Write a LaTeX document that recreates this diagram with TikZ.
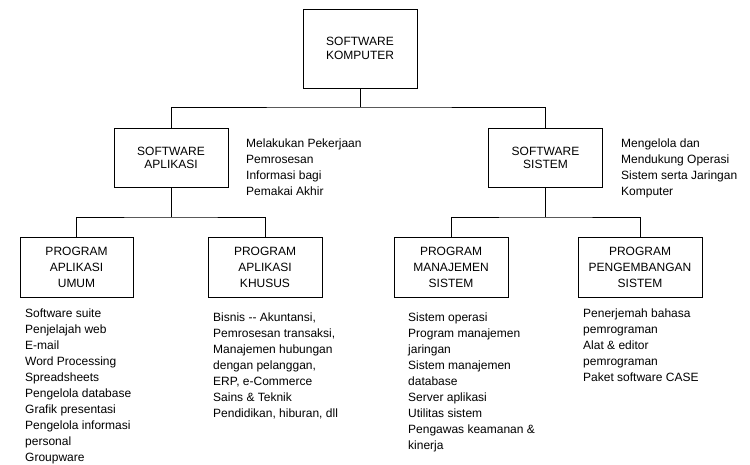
\documentclass[tikz,border=0pt]{standalone}
\usepackage{fontspec}
\setmainfont{Liberation Sans}
\begin{document}
\begin{tikzpicture}[x=1pt,y=-1pt,
  box/.style={draw,line width=0.9pt,rectangle,align=center,inner sep=0pt,font=\fontsize{12}{14}\selectfont},
  listtext/.style={anchor=north west,align=left,inner sep=0pt,font=\fontsize{12}{16}\selectfont},
  conn/.style={line width=0.9pt}]
\useasboundingbox (0,0) rectangle (750,464);
% top
\node[box,minimum width=114pt,minimum height=79pt] (top) at (360,48.5) {SOFTWARE\\KOMPUTER};
% level 2
\node[box,minimum width=114pt,minimum height=59pt,font=\fontsize{12}{13}\selectfont] (apl) at (171,157.5) {SOFTWARE\\APLIKASI};
\node[box,minimum width=114pt,minimum height=59pt,font=\fontsize{12}{13}\selectfont] (sis) at (545.5,157.5) {SOFTWARE\\SISTEM};
% level 3
\node[box,minimum width=113pt,minimum height=60pt,font=\fontsize{12}{16}\selectfont] (umum) at (76.5,267) {PROGRAM\\APLIKASI\\UMUM};
\node[box,minimum width=114pt,minimum height=60pt,font=\fontsize{12}{16}\selectfont] (khusus) at (265,267) {PROGRAM\\APLIKASI\\KHUSUS};
\node[box,minimum width=114pt,minimum height=60pt,font=\fontsize{12}{16}\selectfont] (manaj) at (451,267) {PROGRAM\\MANAJEMEN\\SISTEM};
\node[box,minimum width=124pt,minimum height=60pt,font=\fontsize{12}{16}\selectfont] (peng) at (640,267) {PROGRAM\\PENGEMBANGAN\\SISTEM};
% junctions
\coordinate (j1) at (360,107);
\coordinate (j2) at (171,217);
\coordinate (j3) at (545.5,217);
% connectors
\draw[conn] (top.south) -- (j1);
\draw[conn] (apl.north) |- (j1) -| (sis.north);
\draw[conn] (apl.south) -- (j2);
\draw[conn] (umum.north) |- (j2) -| (khusus.north);
\draw[conn] (sis.south) -- (j3);
\draw[conn] (manaj.north) |- (j3) -| (peng.north);
% descriptions
\node[listtext] (dapl) at (246,139) {Melakukan Pekerjaan\\Pemrosesan\\Informasi bagi\\Pemakai Akhir};
\node[listtext] (dsis) at (621,139) {Mengelola dan\\Mendukung Operasi\\Sistem serta Jaringan\\Komputer};
% lists
\node[listtext] (lumum) at (25,309) {Software suite\\Penjelajah web\\E-mail\\Word Processing\\Spreadsheets\\Pengelola database\\Grafik presentasi\\Pengelola informasi\\personal\\Groupware};
\node[listtext] (lkhusus) at (213,313) {Bisnis -{}- Akuntansi,\\Pemrosesan transaksi,\\Manajemen hubungan\\dengan pelanggan,\\ERP, e-Commerce\\Sains \& Teknik\\Pendidikan, hiburan, dll};
\node[listtext] (lmanaj) at (408,313) {Sistem operasi\\Program manajemen\\jaringan\\Sistem manajemen\\database\\Server aplikasi\\Utilitas sistem\\Pengawas keamanan \&\\kinerja};
\node[listtext] (lpeng) at (583,309) {Penerjemah bahasa\\pemrograman\\Alat \& editor\\pemrograman\\Paket software CASE};
\end{tikzpicture}
\end{document}
